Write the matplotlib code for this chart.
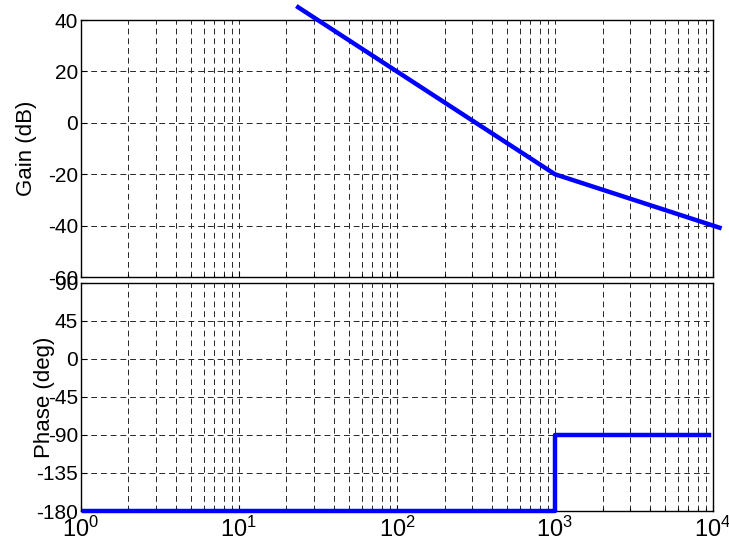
import matplotlib
matplotlib.use('Agg')
import matplotlib.pyplot as plt
import numpy as np

plt.rcParams['font.family'] = ['Liberation Sans', 'DejaVu Sans']
plt.rcParams['mathtext.fontset'] = 'custom'
plt.rcParams['mathtext.rm'] = 'Liberation Sans'
plt.rcParams['axes.unicode_minus'] = False
plt.rcParams['font.size'] = 15

# asymptotic bode: gain corners and phase steps
gain_freq = [23.7, 1000, 11000]
gain_db = [45.0, -20.0, -40.8]
phase_freq = [1.05, 1000, 1000, 9500]
phase_deg = [-180, -180, -90, -90]

gain_ticks = [-60, -40, -20, 0, 20, 40]
phase_ticks = [-180, -135, -90, -45, 0, 45, 90]

fig = plt.figure(figsize=(7.29, 5.49), dpi=100)
ax1 = fig.add_axes([0.111, 0.4954, 0.867, 0.468])
ax2 = fig.add_axes([0.111, 0.0692, 0.867, 0.4158])

blue = (0, 0, 1)
ax1.semilogx(gain_freq, gain_db, color=blue, lw=3.2, clip_on=False, zorder=5)
ax2.semilogx(phase_freq, phase_deg, color=blue, lw=3.2, clip_on=False, zorder=5)

ax1.set_ylim(-60, 40)
ax1.set_yticks(gain_ticks)
ax2.set_ylim(-180, 90)
ax2.set_yticks(phase_ticks)

for ax in (ax1, ax2):
    ax.set_xlim(1, 1e4)
    ax.grid(True, which='major', axis='both', color='0.15', ls=(0, (6, 4)), lw=0.7)
    ax.grid(True, which='minor', axis='x', color='0.15', ls=(0, (6, 4)), lw=0.7)
    ax.tick_params(which='both', direction='in', length=4, width=0.8, pad=2,
                   labelsize=15)
    ax.tick_params(which='minor', length=2)
    for s in ax.spines.values():
        s.set_linewidth(1.0)

ax1.tick_params(axis='x', which='both', labelbottom=False)
ax2.tick_params(axis='x', pad=4, labelsize=17)

ax1.set_ylabel('Gain (dB)', fontsize=16)
ax2.set_ylabel('Phase (deg)', fontsize=16)
ax1.yaxis.set_label_coords(-0.070, 0.5)
ax2.yaxis.set_label_coords(-0.041, 0.5)

fig.savefig('out.png', dpi=100)
